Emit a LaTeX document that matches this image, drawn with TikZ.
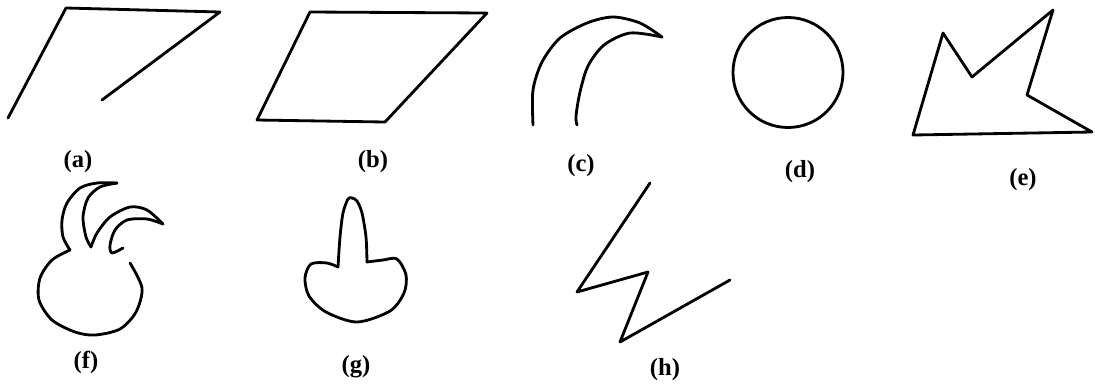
\documentclass[tikz,border=0pt]{standalone}
\usepackage{fontspec}
\setmainfont{Liberation Serif}
\usepackage{tikz}

\begin{document}
\begin{tikzpicture}[
  x=0.02cm, y=-0.02cm,
  shp/.style={draw=black, line width=1.6pt, line join=round, line cap=round},
  lbl/.style={font=\bfseries\fontsize{14}{16}\selectfont, inner sep=0pt}
]
\useasboundingbox (0,0) rectangle (1095,383);
% top row
\draw[shp] (8,118) -- (66,8) -- (220,12) -- (102,100);
\draw[shp] (310,12) -- (487,13) -- (385,122) -- (257,120) -- cycle;
\draw[shp] plot[smooth] coordinates {(533,125) (533,90) (542,62) (560,38) (587,23) (613,17) (640,23) (662,37)};
\draw[shp] plot[smooth] coordinates {(662,37) (630,33) (604,45) (588,66) (580,92) (576,116) (577,125)};
\draw[shp] (788,72.5) circle (55);
\draw[shp] (943,33) -- (972,77) -- (1053,10) -- (1027,95) -- (1092,132) -- (913,135) -- cycle;
% bottom row
\draw[shp] plot[smooth] coordinates {(70,250) (52,260) (40,278) (39,300) (52,320) (75,332) (95,335) (120,329) (136,312) (142,288) (130,263)};
\draw[shp] plot[smooth] coordinates {(70,250) (63,237) (62,220) (67,203) (80,188) (97,183) (117,183)};
\draw[shp] plot[smooth] coordinates {(117,183) (100,187) (88,198) (83,217) (86,237) (91,247)};
\draw[shp] plot[smooth] coordinates {(91,247) (97,233) (110,217) (130,207) (147,210) (163,224)};
\draw[shp] plot[smooth] coordinates {(163,224) (147,219) (127,220) (115,230) (110,245) (112,253) (123,248)};
\draw[shp] plot[smooth] coordinates {(338,267) (340,237) (343,213) (348,199) (352,198) (357,201) (362,213) (366,237) (367,262)};
\draw[shp] plot[smooth] coordinates {(367,262) (383,260) (397,259) (406,275) (404,293) (390,311) (357,322) (326,312) (309,296) (305,278) (311,264) (327,263) (338,267)};
\draw[shp] (650,183) -- (577,292) -- (648,272) -- (620,342) -- (730,280);
% labels
\node[lbl] (la) at (78,162) {(a)};
\node[lbl] (lb) at (373,162) {(b)};
\node[lbl] (lc) at (581,166) {(c)};
\node[lbl] (ld) at (800,172) {(d)};
\node[lbl] (le) at (1023,180) {(e)};
\node[lbl] (lf) at (86,362) {(f)};
\node[lbl] (lg) at (356,367) {(g)};
\node[lbl] (lh) at (665,370) {(h)};
\end{tikzpicture}
\end{document}
